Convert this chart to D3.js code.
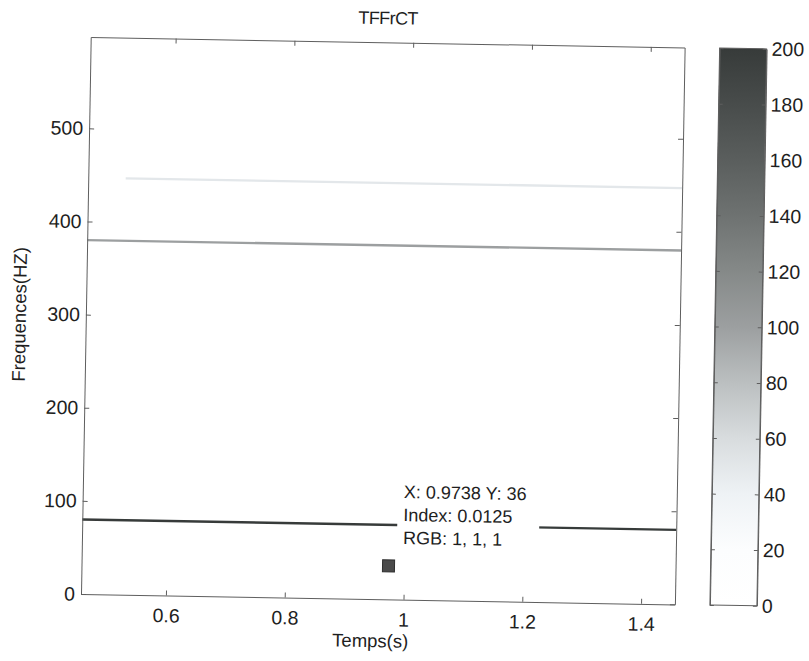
<!DOCTYPE html>
<html>
<head>
<meta charset="utf-8">
<script src="https://cdn.jsdelivr.net/npm/d3@7"></script>
<style>
  body { margin: 0; background: #fff; }
  svg text { font-family: "Liberation Sans", Arial, Helvetica, sans-serif; fill: #1e1e1e; }
</style>
</head>
<body>
<svg id="chart" width="809" height="661"></svg>
<script>
// Axis ranges and ticks
const timeDomain = [0.457, 1.457];
const freqDomain = [0, 598];
const timeTicks = [0.6, 0.8, 1, 1.2, 1.4];
const freqTicks = [0, 100, 200, 300, 400, 500];
const levelDomain = [0, 200];
const levelTicks = [0, 20, 40, 60, 80, 100, 120, 140, 160, 180, 200];

// Spectral ridges of the time-frequency map (Hz, s, magnitude)
const ridgeFreqs  = [80, 380, 447];
const ridgeStarts = [0.457, 0.457, 0.52];
const ridgeEnds   = [1.457, 1.457, 1.457];
const ridgeLevels = [200, 100, 50];
const freqBin = 2.5;

// Data cursor
const tipTime = 0.9738;
const tipFreq = 36;
const tipLines = ["X: 0.9738 Y: 36", "Index: 0.0125", "RGB: 1, 1, 1"];

// Colormap (light to dark)
const cmapStops  = [0, 20, 40, 60, 80, 100, 120, 140, 160, 180, 200];
const cmapColors = ["#ffffff", "#fcfdfe", "#eef2f5", "#d8dcde", "#bbbfc0", "#9c9fa0",
                    "#858988", "#6e7271", "#5a5e5d", "#484c4b", "#373b3a"];

const plot = { left: 81, top: 37, width: 594, height: 557 };
const cbar = { left: 710, width: 47 };
const fontTick = 19.5, fontLabel = 18.5;

const svg = d3.select("#chart");
const root = svg.append("g")
  .attr("transform", `rotate(1, ${plot.left}, ${plot.top + plot.height})`);

const x = d3.scaleLinear().domain(timeDomain).range([plot.left, plot.left + plot.width]);
const y = d3.scaleLinear().domain(freqDomain).range([plot.top + plot.height, plot.top]);
const color = d3.scaleLinear().domain(cmapStops).range(cmapColors).clamp(true);

// Image area
root.append("rect")
  .attr("x", plot.left).attr("y", plot.top)
  .attr("width", plot.width).attr("height", plot.height)
  .attr("fill", color(0));

const ridges = ridgeFreqs.map((f, i) => ({
  f, t0: ridgeStarts[i], t1: ridgeEnds[i], v: ridgeLevels[i]
}));

root.append("g").selectAll("rect")
  .data(ridges)
  .join("rect")
  .attr("x", d => x(d.t0))
  .attr("width", d => x(d.t1) - x(d.t0))
  .attr("y", d => y(d.f + freqBin / 2))
  .attr("height", d => y(d.f - freqBin / 2) - y(d.f + freqBin / 2))
  .attr("fill", d => color(d.v));

// Axes (box with inward ticks on all sides)
const axisColor = "#5e5e5e";
function styleAxis(g) {
  g.selectAll(".domain").attr("stroke", axisColor).attr("stroke-width", 1);
  g.selectAll(".tick line").attr("stroke", axisColor);
  g.selectAll(".tick text").attr("font-size", fontTick).attr("fill", "#1e1e1e")
    .attr("font-family", "Liberation Sans, Arial, sans-serif");
}

root.append("g")
  .attr("transform", `translate(0,${plot.top + plot.height})`)
  .call(d3.axisBottom(x).tickValues(timeTicks).tickFormat(d3.format("~g"))
    .tickSize(-5).tickSizeOuter(0).tickPadding(13))
  .call(styleAxis);

root.append("g")
  .attr("transform", `translate(0,${plot.top})`)
  .call(d3.axisTop(x).tickValues(timeTicks).tickFormat("").tickSize(-5).tickSizeOuter(0))
  .call(styleAxis);

root.append("g")
  .attr("transform", `translate(${plot.left},0)`)
  .call(d3.axisLeft(y).tickValues(freqTicks).tickFormat(d3.format("d"))
    .tickSize(-5).tickSizeOuter(0).tickPadding(6))
  .call(styleAxis);

root.append("g")
  .attr("transform", `translate(${plot.left + plot.width},0)`)
  .call(d3.axisRight(y).tickValues(freqTicks).tickFormat("").tickSize(-5).tickSizeOuter(0))
  .call(styleAxis);

// Titles
root.append("text")
  .attr("x", plot.left + plot.width / 2).attr("y", 19)
  .attr("text-anchor", "middle").attr("font-size", 18)
  .attr("letter-spacing", -0.6)
  .text("TFFrCT");

root.append("text")
  .attr("x", 371).attr("y", 642)
  .attr("text-anchor", "middle").attr("font-size", fontLabel)
  .text("Temps(s)");

root.append("text")
  .attr("transform", `translate(21, ${plot.top + plot.height / 2}) rotate(-90)`)
  .attr("text-anchor", "middle").attr("font-size", fontLabel)
  .text("Frequences(HZ)");

// Data cursor: marker and tip box
const mx = x(tipTime), my = y(tipFreq);
const tip = root.append("g");
tip.append("rect")
  .attr("x", mx + 8).attr("y", my - 92)
  .attr("width", 142).attr("height", 80)
  .attr("fill", "#ffffff");
tip.selectAll("text.tip")
  .data(tipLines)
  .join("text")
  .attr("class", "tip")
  .attr("x", mx + 14)
  .attr("y", (d, i) => my - 68 + i * 23)
  .attr("font-size", 18)
  .text(d => d);
tip.append("rect")
  .attr("x", mx - 6).attr("y", my - 6)
  .attr("width", 12).attr("height", 12)
  .attr("fill", "#4a4a4a").attr("stroke", "#2e2e2e").attr("stroke-width", 1);

// Colorbar
const cy = d3.scaleLinear().domain(levelDomain).range([plot.top + plot.height, plot.top]);
const grad = svg.append("defs").append("linearGradient")
  .attr("id", "cmap").attr("x1", 0).attr("y1", 1).attr("x2", 0).attr("y2", 0);
grad.selectAll("stop")
  .data(cmapStops)
  .join("stop")
  .attr("offset", d => (d - levelDomain[0]) / (levelDomain[1] - levelDomain[0]))
  .attr("stop-color", d => color(d));

root.append("rect")
  .attr("x", cbar.left).attr("y", plot.top)
  .attr("width", cbar.width).attr("height", plot.height)
  .attr("fill", "url(#cmap)");

root.append("g")
  .attr("transform", `translate(${cbar.left + cbar.width},0)`)
  .call(d3.axisRight(cy).tickValues(levelTicks).tickFormat(d3.format("d"))
    .tickSize(-4).tickSizeOuter(0).tickPadding(5))
  .call(styleAxis);

root.append("g")
  .attr("transform", `translate(${cbar.left},0)`)
  .call(d3.axisLeft(cy).tickValues(levelTicks).tickFormat("").tickSize(-4).tickSizeOuter(0))
  .call(styleAxis);

root.append("rect")
  .attr("x", cbar.left).attr("y", plot.top)
  .attr("width", cbar.width).attr("height", plot.height)
  .attr("fill", "none").attr("stroke", axisColor);
</script>
</body>
</html>
